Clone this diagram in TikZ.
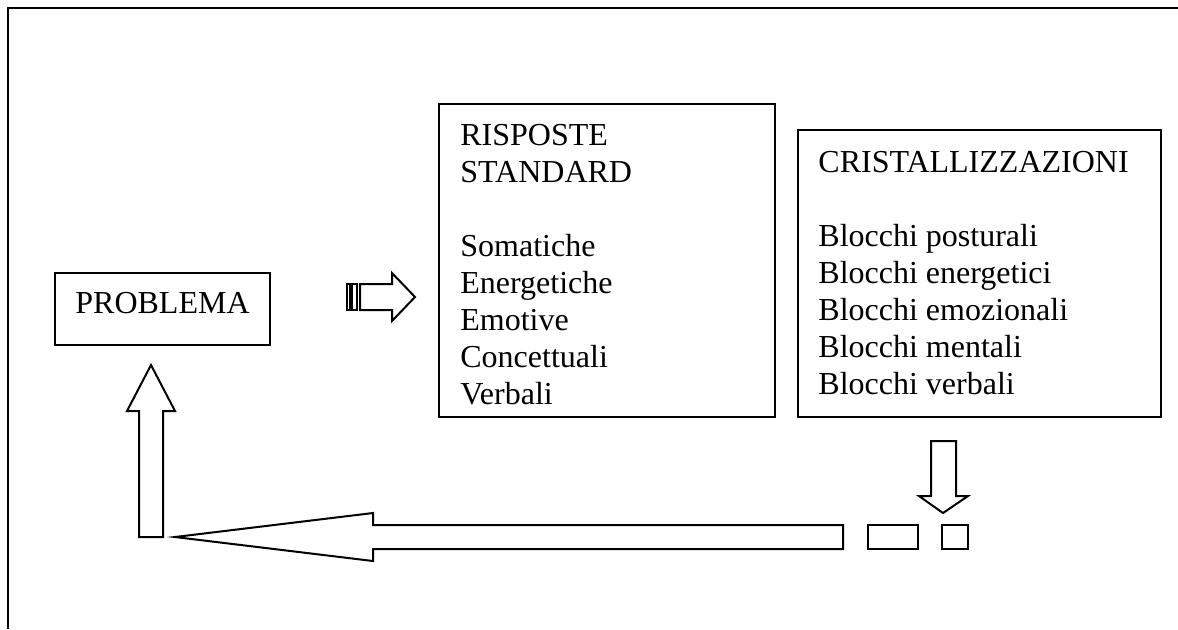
\documentclass[tikz,border=0pt]{standalone}
\usepackage{fontspec}
\setmainfont{Liberation Serif}
\usetikzlibrary{positioning}
\tikzset{testo/.style={anchor=north west, inner sep=0pt, align=left, font=\fontsize{16}{18.5}\selectfont},
	blocco/.style={line width=1pt, fill=white}}

\begin{document}
\begin{tikzpicture}[x=0.5pt,y=-0.5pt]
	\useasboundingbox (0,0) rectangle (1178,629);
	% cornice
	\draw[line width=1pt] (8,629) -- (8,8) -- (1178,8);
	
	% riquadri
	\draw[blocco] (55,273) rectangle (270,345);
	\draw[blocco] (439,104) rectangle (775,417);
	\draw[blocco] (798,130) rectangle (1161,417);
	
	\node[testo] (problema) at (75,287) {\strut PROBLEMA};
	\node[testo] (risposte) at (460,119) {\strut RISPOSTE\\STANDARD\\[18.5pt]Somatiche\\Energetiche\\Emotive\\Concettuali\\Verbali};
	\node[testo] (cristal) at (818,146) {\strut CRISTALLIZZAZIONI\\[18.5pt]Blocchi posturali\\Blocchi energetici\\Blocchi emozionali\\Blocchi mentali\\Blocchi verbali};
	
	% freccia a strisce verso destra
	\draw[blocco] (347,284) rectangle (350,310);
	\draw[blocco] (352,284) rectangle (357,310);
	\draw[blocco] (360,284) -- (392,284) -- (392,273) -- (415,297) -- (392,321) -- (392,310) -- (360,310) -- cycle;
	
	% freccia in basso
	\draw[blocco] (931,441) -- (956,441) -- (956,496) -- (968,496) -- (943,513) -- (919,496) -- (931,496) -- cycle;
	
	% freccia lunga verso sinistra
	\draw[blocco] (942,525) rectangle (968,549);
	\draw[blocco] (868,525) rectangle (918,549);
	\draw[blocco] (843,525) -- (373,525) -- (373,513) -- (175,537) -- (373,561) -- (373,549) -- (843,549) -- cycle;
	
	% freccia in alto
	\draw[blocco] (139,537) -- (139,411) -- (127,411) -- (151,365) -- (175,411) -- (163,411) -- (163,537) -- cycle;
\end{tikzpicture}
\end{document}
